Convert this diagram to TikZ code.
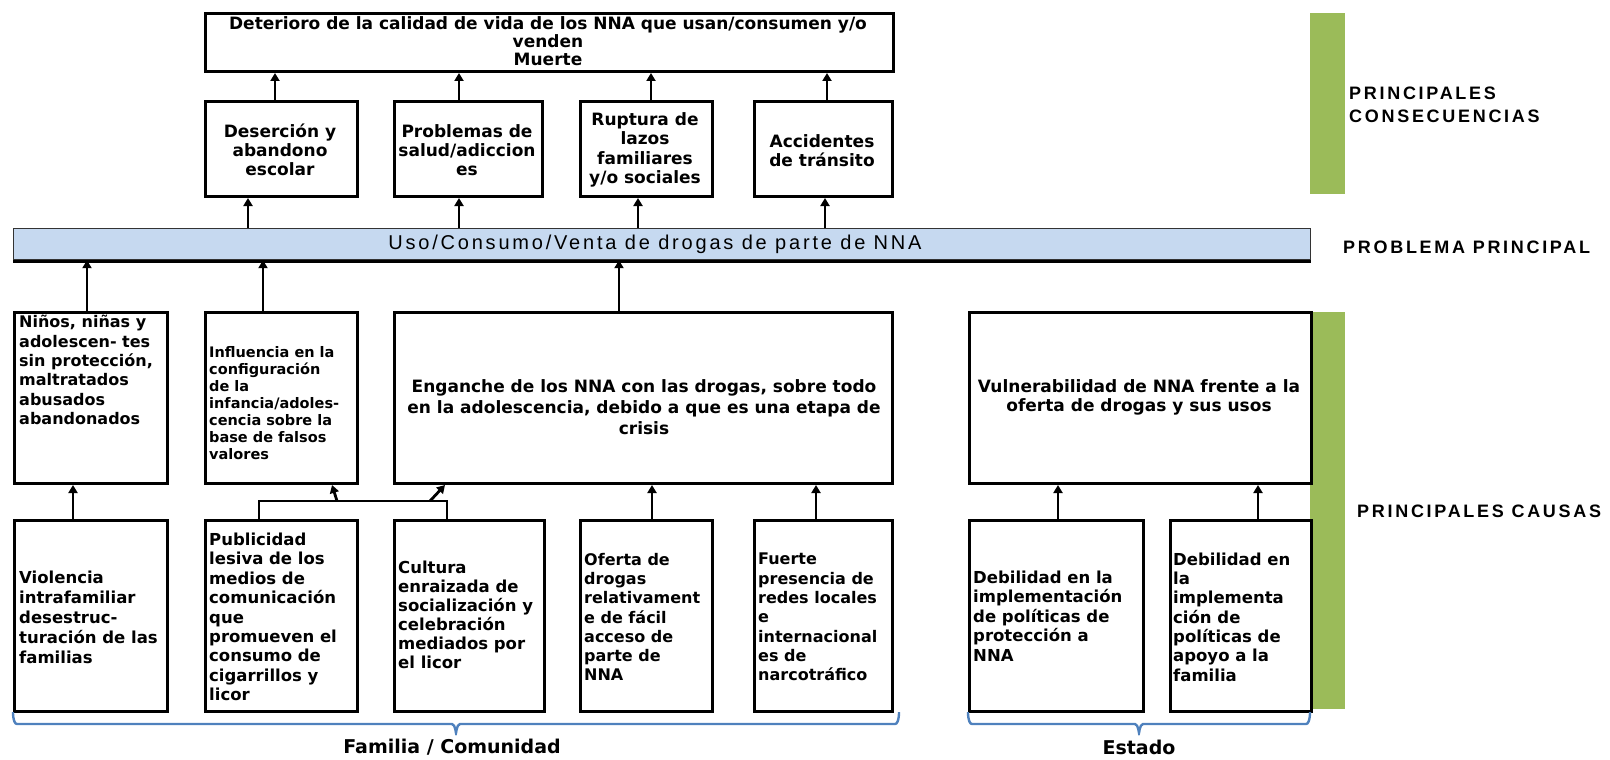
\documentclass[tikz,border=0pt]{standalone}
\usepackage{fontspec}
\setmainfont{DejaVu Sans}
\newfontfamily\sidefont{Liberation Sans}[LetterSpace=15]
\newfontfamily\bandfont{Liberation Sans}[LetterSpace=14]
\usetikzlibrary{arrows.meta}
\definecolor{bandblue}{RGB}{198,217,240}
\definecolor{barGreen}{RGB}{155,187,89}
\definecolor{braceBlue}{RGB}{79,129,189}
\newcommand{\fs}[2]{\fontsize{#1}{#2}\selectfont}

\begin{document}
\begin{tikzpicture}[x=1pt,y=-1pt,
  box/.style={draw=black, line width=3pt, anchor=north west, inner sep=0pt, fill=white},
  txt/.style={inner sep=0pt, align=left, anchor=west},
  ctxt/.style={inner sep=0pt, align=center},
  arr/.style={line width=2.8pt, -{Triangle[length=8pt,width=9pt]}},
  ln/.style={line width=2.8pt},
  brc/.style={draw=braceBlue, line width=2.4pt, line cap=round},
  side/.style={inner sep=0pt, align=left, anchor=west, font=\sidefont\bfseries\fs{18}{23}},
  group/.style={inner sep=0pt, font=\bfseries\fs{19}{23}},
]
\useasboundingbox (0,0) rectangle (1610,760);

% side bars
\fill[barGreen] (1310,13) rectangle (1345,194);
\fill[barGreen] (1310,312) rectangle (1345,709);

% consequences
\node[box, minimum width=688, minimum height=58] (top) at (204,12) {};
\node[box, minimum width=152, minimum height=95] (c1) at (204,100) {};
\node[box, minimum width=148, minimum height=95] (c2) at (393,100) {};
\node[box, minimum width=132, minimum height=95] (c3) at (579,100) {};
\node[box, minimum width=138, minimum height=95] (c4) at (753,100) {};

\node[ctxt, font=\bfseries\fs{17}{18}] (top-t) at (548,41)
  {Deterioro de la calidad de vida de los NNA que usan/consumen y/o\\venden\\Muerte};
\node[ctxt, font=\bfseries\fs{17}{19}] (c1-t) at (280,150) {Deserción y\\abandono\\escolar};
\node[ctxt, font=\bfseries\fs{17}{19}] (c2-t) at (467,150) {Problemas de\\salud/adiccion\\es};
\node[ctxt, font=\bfseries\fs{17}{19.5}] (c3-t) at (645,150) {Ruptura de\\lazos\\familiares\\y/o sociales};
\node[ctxt, font=\bfseries\fs{17}{19}] (c4-t) at (822,151) {Accidentes\\de tránsito};

% main problem
\node[draw=black!80, line width=1.2pt, fill=bandblue, anchor=north west, inner sep=0pt,
      minimum width=1297, minimum height=31] (band) at (13,228) {};
\draw[line width=3pt] ([yshift=-1pt]band.south west) -- ([yshift=-1pt]band.south east);
\node[ctxt, font=\bandfont\fs{20}{24}] (band-t) at (655,244) {Uso/Consumo/Venta de drogas de parte de NNA};

% causes, first level
\node[box, minimum width=153, minimum height=171] (a) at (13,311) {};
\node[box, minimum width=152, minimum height=171] (b) at (204,311) {};
\node[box, minimum width=498, minimum height=171] (c) at (393,311) {};
\node[box, minimum width=342, minimum height=171] (d) at (968,311) {};

\node[txt, font=\bfseries\fs{16}{19.3}] (a-t) at (19,370)
  {Niños, niñas y\\adolescen- tes\\sin protección,\\maltratados\\abusados\\abandonados};
\node[txt, font=\bfseries\fs{14.5}{17}] (b-t) at (209,403)
  {Influencia en la\\configuración\\de la\\infancia/adoles-\\cencia sobre la\\base de falsos\\valores};
\node[ctxt, font=\bfseries\fs{17}{21}] (c-t) at (644,407)
  {Enganche de los NNA con las drogas, sobre todo\\en la adolescencia, debido a que es una etapa de\\crisis};
\node[ctxt, font=\bfseries\fs{17}{19}] (d-t) at (1139,397)
  {Vulnerabilidad de NNA frente a la\\oferta de drogas y sus usos};

% causes, second level
\node[box, minimum width=153, minimum height=191] (e) at (13,519) {};
\node[box, minimum width=152, minimum height=191] (f) at (204,519) {};
\node[box, minimum width=150, minimum height=191] (g) at (393,519) {};
\node[box, minimum width=132, minimum height=191] (h) at (579,519) {};
\node[box, minimum width=138, minimum height=191] (i) at (753,519) {};
\node[box, minimum width=174, minimum height=191] (j) at (968,519) {};
\node[box, minimum width=141, minimum height=191] (k) at (1169,519) {};

\node[txt, font=\bfseries\fs{16.5}{20}] (e-t) at (19,617)
  {Violencia\\intrafamiliar\\desestruc-\\turación de las\\familias};
\node[txt, font=\bfseries\fs{16.5}{19.4}] (f-t) at (209,617)
  {Publicidad\\lesiva de los\\medios de\\comunicación\\que\\promueven el\\consumo de\\cigarrillos y\\licor};
\node[txt, font=\bfseries\fs{16.5}{19}] (g-t) at (398,615)
  {Cultura\\enraizada de\\socialización y\\celebración\\mediados por\\el licor};
\node[txt, font=\bfseries\fs{16}{19.3}] (h-t) at (584,617)
  {Oferta de\\drogas\\relativament\\e de fácil\\acceso de\\parte de\\NNA};
\node[txt, font=\bfseries\fs{16}{19.3}] (i-t) at (758,617)
  {Fuerte\\presencia de\\redes locales\\e\\internacional\\es de\\narcotráfico};
\node[txt, font=\bfseries\fs{16.5}{19.5}] (j-t) at (973,616)
  {Debilidad en la\\implementación\\de políticas de\\protección a\\NNA};
\node[txt, font=\bfseries\fs{16.5}{19.3}] (k-t) at (1173,617)
  {Debilidad en\\la\\implementa\\ción de\\políticas de\\apoyo a la\\familia};

% consequences -> top effect
\draw[arr] (c1.north -| 275,0) -- (top.south -| 275,0);
\draw[arr] (c2.north -| 459,0) -- (top.south -| 459,0);
\draw[arr] (c3.north -| 651,0) -- (top.south -| 651,0);
\draw[arr] (c4.north -| 827,0) -- (top.south -| 827,0);

% main problem -> consequences
\draw[arr] (band.north -| 248,0) -- (c1.south -| 248,0);
\draw[arr] (band.north -| 459,0) -- (c2.south -| 459,0);
\draw[arr] (band.north -| 638,0) -- (c3.south -| 638,0);
\draw[arr] (band.north -| 825,0) -- (c4.south -| 825,0);

% first-level causes -> main problem
\draw[arr] (a.north -| 87,0) -- (band.south -| 87,0);
\draw[arr] (b.north -| 263,0) -- (band.south -| 263,0);
\draw[arr] (c.north -| 619,0) -- (band.south -| 619,0);

% second-level causes -> first-level causes
\draw[arr] (e.north -| 73,0) -- (a.south -| 73,0);
\draw[arr] (h.north -| 652,0) -- (c.south -| 652,0);
\draw[arr] (i.north -| 816,0) -- (c.south -| 816,0);
\draw[arr] (j.north -| 1058,0) -- (d.south -| 1058,0);
\draw[arr] (k.north -| 1258,0) -- (d.south -| 1258,0);

% shared connector of f and g
\coordinate (fgL) at (259,501);
\coordinate (fgR) at (447,501);
\coordinate (fgA) at (337,501);
\coordinate (fgB) at (430,501);
\draw[ln] (f.north -| fgL) -- (fgL) -- (fgR) -- (g.north -| fgR);
\draw[arr] (fgA) -- (b.south -| 332,0);
\draw[arr] (fgB) -- (c.south -| 445,0);

% group braces
\draw[brc] (13,713) to[out=90,in=180] (17,724) -- (452,724)
  to[out=0,in=-90] (456,732) to[out=-90,in=180] (460,724) -- (895,724) to[out=0,in=90] (899,713);
\draw[brc] (968,713) to[out=90,in=180] (972,724) -- (1135,724)
  to[out=0,in=-90] (1139,732) to[out=-90,in=180] (1143,724) -- (1306,724) to[out=0,in=90] (1310,713);
\node[group] (fam) at (452,747) {Familia / Comunidad};
\node[group] (est) at (1139,747) {Estado};

% side labels
\node[side] (lcons) at (1349,104.5) {PRINCIPALES\\CONSECUENCIAS};
\node[side] (lprob) at (1343,247) {PROBLEMA PRINCIPAL};
\node[side] (lcaus) at (1357,511) {PRINCIPALES CAUSAS};
\end{tikzpicture}
\end{document}
